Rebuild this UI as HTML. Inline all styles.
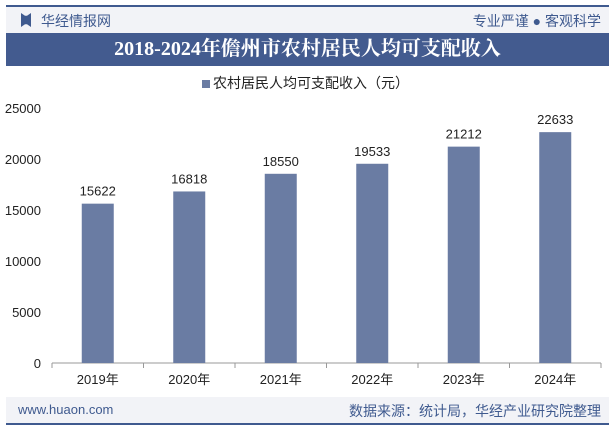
<!DOCTYPE html>
<html><head><meta charset="utf-8"><style>
body{margin:0;width:615px;height:427px;background:#fff;font-family:"Liberation Sans","Noto Sans CJK SC",sans-serif;overflow:hidden;position:relative}
.abs{position:absolute}
</style></head><body>
<div class="abs" style="left:6px;top:5px;width:603px;height:2px;background:#3f5a8f"></div>
<div class="abs" style="left:6px;top:7px;width:603px;height:26px;background:#f2f3f7"></div>
<div class="abs" style="left:21px;top:13px;width:10px;height:14px;background:#3f5a8f;clip-path:polygon(0 0,40% 20%,60% 20%,100% 0,100% 100%,60% 80%,40% 80%,0 100%)"></div>
<div class="abs" style="left:41px;top:11px;font-size:14px;color:#3f5a8f">华经情报网</div>
<div class="abs" style="right:14px;top:11px;font-size:14px;color:#3f5a8f">专业严谨 ● 客观科学</div>
<div class="abs" style="left:6px;top:33px;width:603px;height:33px;background:#435b8f;color:#fff;font-family:'Liberation Serif','Noto Serif CJK SC',serif;font-weight:bold;font-size:20px;text-align:center;line-height:33px">2018-2024年儋州市农村居民人均可支配收入</div>
<div class="abs" style="left:202px;top:73px;font-size:14px;color:#222"><span style="display:inline-block;width:8px;height:8px;background:#6a7ca3;margin-right:3px"></span>农村居民人均可支配收入（元）</div>
<svg class="abs" style="left:0;top:0" width="615" height="427">
<g id="g"></g></svg>
<div class="abs" style="left:6px;top:397px;width:603px;height:27px;background:#f2f3f7"></div>
<div class="abs" style="left:6px;top:423px;width:603px;height:2px;background:#3f5a8f"></div>
<div class="abs" style="left:18px;top:402px;font-size:13px;color:#3f5a8f">www.huaon.com</div>
<div class="abs" style="right:14px;top:401px;font-size:14px;color:#3f5a8f">数据来源：统计局，华经产业研究院整理</div>
<script>
const categories=["2019年","2020年","2021年","2022年","2023年","2024年"];
const values=[15622,16818,18550,19533,21212,22633];
const yTicks=[0,5000,10000,15000,20000,25000];
const x0=52,x1=601,y0=363,yTop=108,yMax=25000;
const g=document.getElementById('g');const ns='http://www.w3.org/2000/svg';
const bw=(x1-x0)/categories.length;
const Y=v=>y0-(v/yMax)*(y0-yTop);
const X=i=>x0+bw*(i+0.5);
function mk(t,a,txt){const e=document.createElementNS(ns,t);for(const k in a)e.setAttribute(k,a[k]);if(txt!=null)e.textContent=txt;g.appendChild(e);return e;}
yTicks.forEach(t=>{const e=mk('text',{x:41,y:Y(t)+5,'text-anchor':'end','font-size':13,fill:'#222'},t);

});
const ax=mk('line',{x1:x0,x2:x1,y1:y0,y2:y0,stroke:'#999'});


for(let i=0;i<=categories.length;i++){const t=mk('line',{x1:x0+bw*i,x2:x0+bw*i,y1:y0,y2:y0+5,stroke:'#999'});

}
categories.forEach((c,i)=>{
const r=mk('rect',{x:X(i)-16,y:Y(values[i]),width:32,height:y0-Y(values[i]),fill:'#6a7ca3'});


const v=mk('text',{x:X(i),y:Y(values[i])-8,'text-anchor':'middle','font-size':13,fill:'#222'},values[i]);


const l=mk('text',{x:X(i),y:y0+21,'text-anchor':'middle','font-size':13,fill:'#222'},c);


});
</script>
</body></html>
